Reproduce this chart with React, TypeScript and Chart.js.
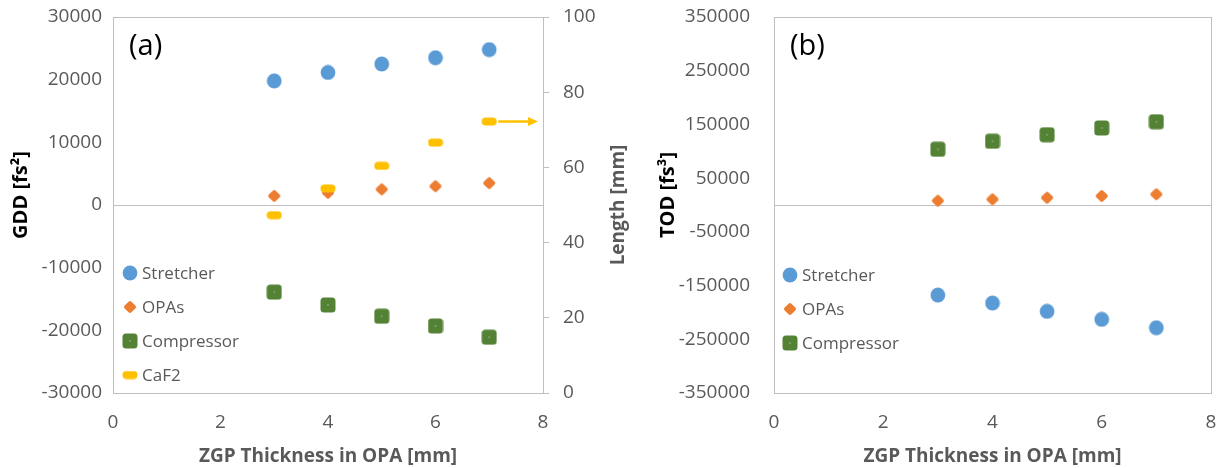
import { useEffect, useRef } from 'react';
import { Chart, registerables } from 'chart.js';

Chart.register(...registerables);

// ---------- data ----------
const thickness = [3, 4, 5, 6, 7];
const gddStretcher = [19800, 21150, 22500, 23500, 24800];
const gddOPAs = [1450, 1950, 2500, 3000, 3500];
const gddCompressor = [-13900, -15950, -17750, -19300, -21100];
const lengthCaF2 = [47.3, 54.4, 60.4, 66.6, 72.2];
const todStretcher = [-167600, -182500, -198000, -212900, -228500];
const todOPAs = [8000, 10600, 13600, 16800, 19900];
const todCompressor = [103700, 118600, 130900, 143400, 155100];

const seriesNames = ['Stretcher', 'OPAs', 'Compressor', 'CaF2'];
const xTitle = 'ZGP Thickness in OPA [mm]';
const gddTitle = 'GDD [fs²]';
const lengthTitle = 'Length [mm]';
const todTitle = 'TOD [fs³]';

const FONT = "'Open Sans', sans-serif";
const GRAY = '#595959';
const LINE = '#BFBFBF';
const BLUE = '#5B9BD5';
const ORANGE = '#ED7D31';
const GREEN = '#548235';
const YELLOW = '#FFC000';

const pts = (ys: number[]) => thickness.map((x, i) => ({ x, y: ys[i] }));

function makeCanvas(w: number, h: number, draw: (c: CanvasRenderingContext2D) => void) {
  const c = document.createElement('canvas');
  c.width = w;
  c.height = h;
  const ctx = c.getContext('2d')!;
  draw(ctx);
  return c;
}

function rr(ctx: CanvasRenderingContext2D, x: number, y: number, w: number, h: number, r: number) {
  ctx.beginPath();
  ctx.moveTo(x + r, y);
  ctx.lineTo(x + w - r, y);
  ctx.quadraticCurveTo(x + w, y, x + w, y + r);
  ctx.lineTo(x + w, y + h - r);
  ctx.quadraticCurveTo(x + w, y + h, x + w - r, y + h);
  ctx.lineTo(x + r, y + h);
  ctx.quadraticCurveTo(x, y + h, x, y + h - r);
  ctx.lineTo(x, y + r);
  ctx.quadraticCurveTo(x, y, x + r, y);
  ctx.closePath();
}

function makeMarkers() {
  const circle = makeCanvas(16, 16, (c) => {
    c.fillStyle = BLUE;
    c.beginPath();
    c.arc(8, 8, 7.4, 0, Math.PI * 2);
    c.fill();
  });
  const diamond = makeCanvas(14, 14, (c) => {
    c.translate(7, 7);
    c.rotate(Math.PI / 4);
    c.fillStyle = ORANGE;
    rr(c, -4.8, -4.8, 9.6, 9.6, 2);
    c.fill();
  });
  const square = makeCanvas(16, 16, (c) => {
    c.fillStyle = GREEN;
    rr(c, 0.5, 0.5, 15, 15, 3.5);
    c.fill();
    c.fillStyle = '#A8B8A0';
    c.beginPath();
    c.arc(8, 8, 0.8, 0, Math.PI * 2);
    c.fill();
  });
  const dash = makeCanvas(16, 9, (c) => {
    c.fillStyle = YELLOW;
    rr(c, 0.5, 0.5, 15, 8, 4);
    c.fill();
  });
  return { circle, diamond, square, dash };
}

const framePlugin = {
  id: 'frame',
  beforeDatasetsDraw(chart: any) {
    const { ctx, chartArea } = chart;
    const ys = chart.scales.y;
    ctx.save();
    ctx.strokeStyle = LINE;
    ctx.lineWidth = 1;
    const l = Math.round(chartArea.left) + 0.5;
    const r = Math.round(chartArea.right) + 0.5;
    const t = Math.round(chartArea.top) + 0.5;
    const b = Math.round(chartArea.bottom) + 0.5;
    ctx.strokeRect(l, t, r - l, b - t);
    const z = Math.round(ys.getPixelForValue(0)) + 0.5;
    ctx.beginPath();
    ctx.moveTo(l, z);
    ctx.lineTo(r, z);
    ctx.stroke();
    ctx.restore();
  },
};

function vText(ctx: CanvasRenderingContext2D, text: string, x: number, y: number, color: string, font: string) {
  ctx.save();
  ctx.translate(x, y);
  ctx.rotate(-Math.PI / 2);
  ctx.textAlign = 'center';
  ctx.textBaseline = 'middle';
  ctx.fillStyle = color;
  ctx.font = font;
  ctx.fillText(text, 0, 0);
  ctx.restore();
}

const overlayPlugin = {
  id: 'overlay',
  afterDatasetsDraw(chart: any, _args: any, opts: any) {
    const { ctx, chartArea } = chart;
    ctx.save();
    // panel label
    ctx.fillStyle = '#000';
    ctx.font = `29px ${FONT}`;
    ctx.textAlign = 'left';
    ctx.textBaseline = 'middle';
    ctx.fillText(opts.label, chartArea.left + 16, chartArea.top + 30);
    // legend
    ctx.font = `17px ${FONT}`;
    ctx.fillStyle = GRAY;
    opts.items.forEach((it: any, i: number) => {
      const cx = chartArea.left + opts.lx;
      const cy = chartArea.top + opts.ly + i * 34;
      ctx.drawImage(it.img, cx - it.img.width / 2, cy - it.img.height / 2);
      ctx.fillText(it.text, cx + 12, cy + 1);
    });
    // arrow for the secondary-axis series
    if (opts.arrowDataset !== undefined) {
      const meta = chart.getDatasetMeta(opts.arrowDataset);
      const p = meta.data[meta.data.length - 1];
      const y = p.y;
      const x0 = p.x + 9;
      const x1 = chartArea.right - 5;
      ctx.strokeStyle = YELLOW;
      ctx.fillStyle = YELLOW;
      ctx.lineWidth = 2.5;
      ctx.beginPath();
      ctx.moveTo(x0, y);
      ctx.lineTo(x1 - 8, y);
      ctx.stroke();
      ctx.beginPath();
      ctx.moveTo(x1, y);
      ctx.lineTo(x1 - 10, y - 4.5);
      ctx.lineTo(x1 - 10, y + 4.5);
      ctx.closePath();
      ctx.fill();
    }
    ctx.restore();
    // axis titles (reading bottom to top)
    const midY = (chartArea.top + chartArea.bottom) / 2;
    const ly = chart.scales.y;
    vText(ctx, opts.leftTitle, ly.left + opts.leftTitleX, midY - 10, '#000', `bold 20px ${FONT}`);
    if (opts.rightTitle) {
      const s = chart.scales.y1;
      vText(ctx, opts.rightTitle, s.right - 21, midY, GRAY, `bold 19px ${FONT}`);
    }
  },
};

const numFmt = (v: any) => String(v);

const noPad = (s: any) => {
  s.paddingTop = 0;
  s.paddingBottom = 0;
};

function xScale() {
  return {
    type: 'linear',
    min: 0,
    max: 8,
    ticks: { stepSize: 2, color: GRAY, font: { family: FONT, size: 19 }, padding: 18 },
    grid: { display: false, drawTicks: false },
    border: { display: true, color: LINE },
    title: {
      display: true,
      text: xTitle,
      color: GRAY,
      font: { family: FONT, size: 19, weight: 'bold' },
      padding: { top: 0, bottom: 0 },
    },
    afterFit: (s: any) => {
      s.height = 75;
      s.paddingLeft = 0;
      s.paddingRight = 0;
    },
  };
}

export default function App() {
  const leftRef = useRef<HTMLCanvasElement>(null);
  const rightRef = useRef<HTMLCanvasElement>(null);

  useEffect(() => {
    const m = makeMarkers();

    const left = new Chart(leftRef.current!, {
      type: 'scatter',
      data: {
        datasets: [
          { label: seriesNames[0], data: pts(gddStretcher), pointStyle: m.circle, pointRadius: 7, yAxisID: 'y', order: 4 },
          { label: seriesNames[1], data: pts(gddOPAs), pointStyle: m.diamond, pointRadius: 7, yAxisID: 'y', order: 3 },
          { label: seriesNames[2], data: pts(gddCompressor), pointStyle: m.square, pointRadius: 7, yAxisID: 'y', order: 2 },
          { label: seriesNames[3], data: pts(lengthCaF2), pointStyle: m.dash, pointRadius: 7, yAxisID: 'y1', order: 1 },
        ],
      } as any,
      options: {
        animation: false,
        responsive: false,
        devicePixelRatio: 1,
        layout: { padding: { top: 17, left: 0, right: 0, bottom: 0 } },
        plugins: {
          legend: { display: false },
          tooltip: { enabled: false },
          overlay: {
            label: '(a)',
            lx: 17,
            ly: 256,
            items: [
              { img: m.circle, text: seriesNames[0] },
              { img: m.diamond, text: seriesNames[1] },
              { img: m.square, text: seriesNames[2] },
              { img: m.dash, text: seriesNames[3] },
            ],
            arrowDataset: 3,
            leftTitle: gddTitle,
            leftTitleX: 21,
            rightTitle: lengthTitle,
          },
        } as any,
        scales: {
          x: xScale(),
          y: {
            type: 'linear',
            position: 'left',
            min: -30000,
            max: 30000,
            ticks: { stepSize: 10000, color: GRAY, font: { family: FONT, size: 19 }, padding: 11, callback: numFmt },
            grid: { display: false, drawTicks: false },
            border: { display: true, color: LINE },
            title: { display: false },
            afterFit: (s: any) => {
              s.width = 113;
              noPad(s);
            },
          },
          y1: {
            type: 'linear',
            position: 'right',
            min: 0,
            max: 100,
            ticks: { stepSize: 20, color: GRAY, font: { family: FONT, size: 19 }, padding: 14, callback: numFmt },
            grid: { display: true, drawOnChartArea: false, drawTicks: true, tickLength: 6, color: LINE },
            border: { display: true, color: LINE },
            title: { display: false },
            afterFit: (s: any) => {
              s.width = 97;
              noPad(s);
            },
          },
        } as any,
      },
      plugins: [framePlugin, overlayPlugin],
    });

    const right = new Chart(rightRef.current!, {
      type: 'scatter',
      data: {
        datasets: [
          { label: seriesNames[0], data: pts(todStretcher), pointStyle: m.circle, pointRadius: 7, order: 3 },
          { label: seriesNames[1], data: pts(todOPAs), pointStyle: m.diamond, pointRadius: 7, order: 2 },
          { label: seriesNames[2], data: pts(todCompressor), pointStyle: m.square, pointRadius: 7, order: 1 },
        ],
      } as any,
      options: {
        animation: false,
        responsive: false,
        devicePixelRatio: 1,
        layout: { padding: { top: 17, left: 0, right: 14, bottom: 0 } },
        plugins: {
          legend: { display: false },
          tooltip: { enabled: false },
          overlay: {
            label: '(b)',
            lx: 16,
            ly: 258,
            items: [
              { img: m.circle, text: seriesNames[0] },
              { img: m.diamond, text: seriesNames[1] },
              { img: m.square, text: seriesNames[2] },
            ],
            leftTitle: todTitle,
            leftTitleX: 28,
          },
        } as any,
        scales: {
          x: xScale(),
          y: {
            type: 'linear',
            position: 'left',
            min: -350000,
            max: 350000,
            ticks: { stepSize: 100000, color: GRAY, font: { family: FONT, size: 19 }, padding: 24, callback: numFmt },
            grid: { display: false, drawTicks: false },
            border: { display: true, color: LINE },
            title: { display: false },
            afterFit: (s: any) => {
              s.width = 134;
              noPad(s);
            },
          },
        } as any,
      },
      plugins: [framePlugin, overlayPlugin],
    });

    return () => {
      left.destroy();
      right.destroy();
    };
  }, []);

  return (
    <div style={{ position: 'fixed', left: 0, top: 0, width: 1225, height: 468, background: '#fff' }}>
      <canvas ref={leftRef} width={640} height={468} style={{ position: 'absolute', left: 0, top: 0 }} />
      <canvas ref={rightRef} width={585} height={468} style={{ position: 'absolute', left: 640, top: 0 }} />
    </div>
  );
}
